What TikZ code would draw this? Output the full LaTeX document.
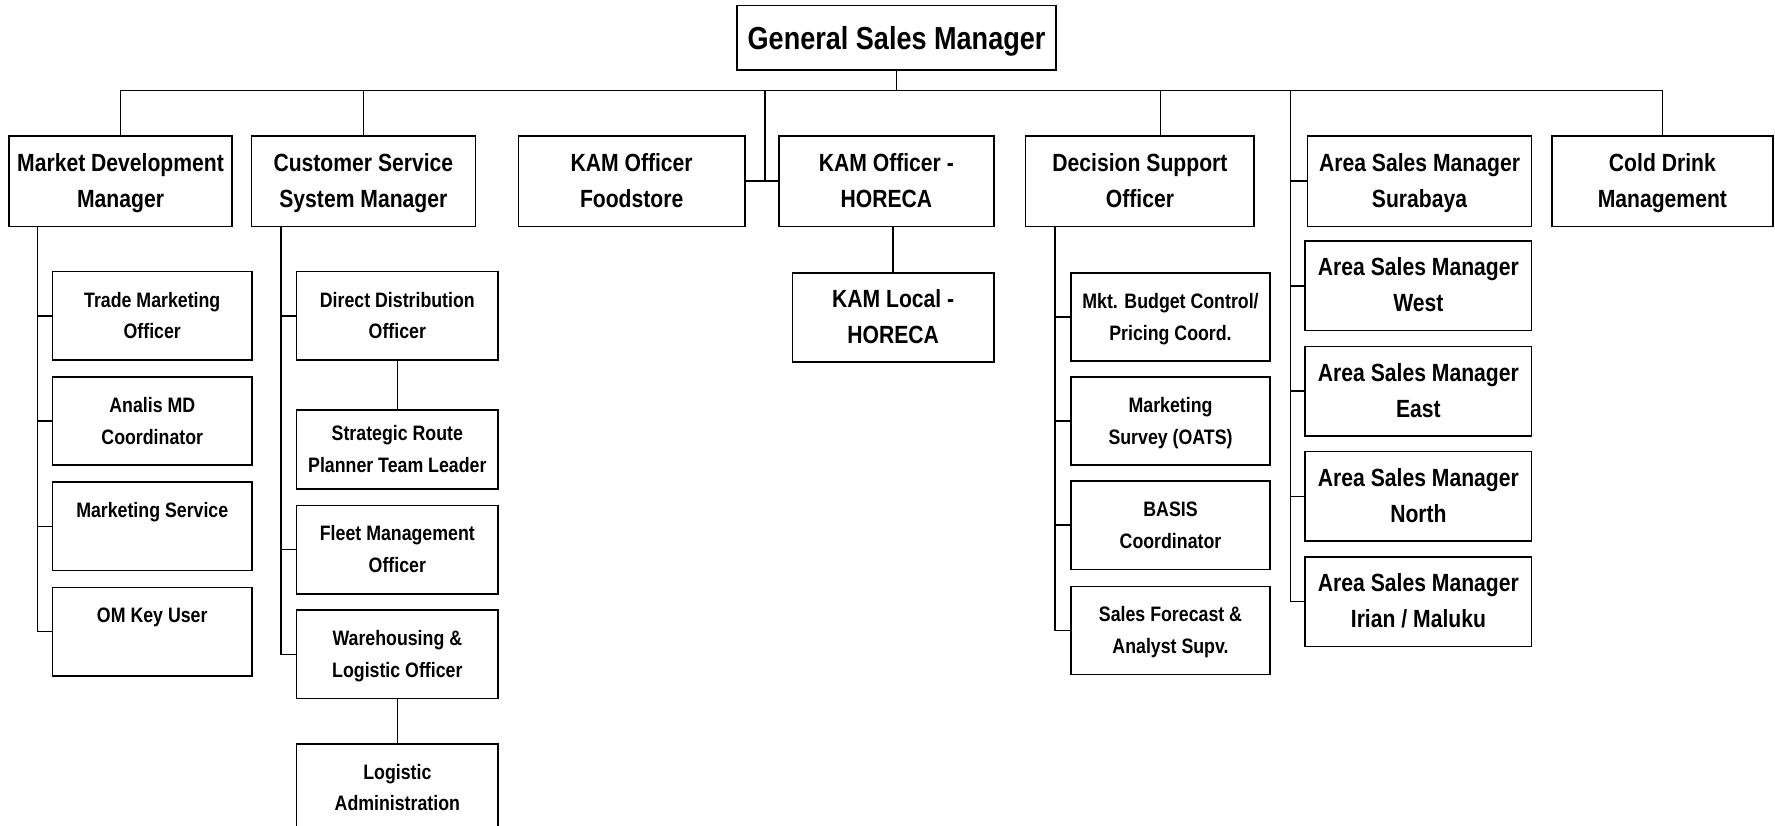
\documentclass[tikz,border=0pt]{standalone}
\usepackage{fontspec}
\setmainfont{Liberation Sans}[FakeStretch=0.85]
\usetikzlibrary{positioning,calc}
\def\px{0.2mm}
\tikzset{
  orgline/.style={line width=0.8pt},
  plainbox/.style={draw,orgline,align=center,inner sep=1pt,
    execute at end node=\strut},
  % two lines of text: room above the first line, strut below the last
  orgbox/.style={plainbox,
    font=\bfseries\fontsize{12.5}{18}\selectfont,
    execute at begin node=\rule{0pt}{1.75\baselineskip},
    minimum width=198*\px,minimum height=80*\px},
  subbox/.style={orgbox,font=\bfseries\fontsize{10.5}{16}\selectfont,
    minimum width=176*\px,minimum height=78*\px},
  areabox/.style={orgbox,minimum width=200*\px,minimum height=79*\px},
  headbox/.style={plainbox,font=\bfseries\fontsize{16}{20}\selectfont,
    execute at begin node=\rule{0pt}{0.9\baselineskip},
    minimum width=282*\px,minimum height=57*\px}
}
\begin{document}
\begin{tikzpicture}[x=\px,y=-\px]
\useasboundingbox (0,0) rectangle (1568,729);

% top
\node[headbox] (gsm) at (792,33.5) {General Sales Manager};

% first row
\node[orgbox,minimum width=197*\px] (mdm) at (106.5,160) {Market Development\\Manager};
\node[orgbox] (css) at (321,160) {Customer Service\\System Manager};
\node[orgbox,minimum width=200*\px] (kamf) at (558,160) {KAM Officer\\Foodstore};
\node[orgbox,minimum width=190*\px] (kamh) at (783,160) {KAM Officer -\\HORECA};
\node[orgbox,minimum width=202*\px] (dso) at (1007,160) {Decision Support\\Officer};
\node[orgbox] (asb) at (1254,160) {Area Sales Manager\\Surabaya};
\node[orgbox,minimum width=195*\px] (cdm) at (1468.5,160) {Cold Drink\\Management};

% market development
\node[subbox] (tmo) at (134.5,279) {Trade Marketing\\Officer};
\node[subbox] (amd) at (134.5,372) {Analis MD\\Coordinator};
\node[subbox] (msv) at (134.5,465) {Marketing Service\\~};
\node[subbox] (omk) at (134.5,558) {OM Key User\\~};

% customer service
\node[subbox,minimum width=178*\px] (ddo) at (351,279) {Direct Distribution\\Officer};
\node[subbox,minimum width=178*\px,minimum height=70*\px] (srp) at (351,397) {Strategic Route\\Planner Team Leader};
\node[subbox,minimum width=178*\px] (fmo) at (351,485.5) {Fleet Management\\Officer};
\node[subbox,minimum width=178*\px] (wlo) at (351,578) {Warehousing \&\\Logistic Officer};
\node[subbox,minimum width=178*\px] (lad) at (351,696) {Logistic\\Administration};

% kam horeca
\node[orgbox,minimum width=178*\px,minimum height=79*\px] (kaml) at (789,280.5) {KAM Local -\\HORECA};

% decision support
\node[subbox] (mbc) at (1034,280) {Mkt. Budget Control/\\Pricing Coord.};
\node[subbox] (msu) at (1034,372) {Marketing\\Survey (OATS)};
\node[subbox] (bas) at (1034,464) {BASIS\\Coordinator};
\node[subbox] (sfa) at (1034,557) {Sales Forecast \&\\Analyst Supv.};

% area sales
\node[areabox] (wst) at (1253,252.5) {Area Sales Manager\\West};
\node[areabox] (est) at (1253,345.5) {Area Sales Manager\\East};
\node[areabox] (nth) at (1253,438.5) {Area Sales Manager\\North};
\node[areabox] (iri) at (1253,531.5) {Area Sales Manager\\Irian / Maluku};

% bus and spines
\coordinate (bus) at (0,80);
\coordinate (mdmsp) at (33,0);
\coordinate (csssp) at (248,0);
\coordinate (dsosp) at (932,0);
\coordinate (asmsp) at (1140,80);
\coordinate (kamj) at (676,160);
\coordinate (dsoj) at (1025,0);

\begin{scope}[orgline]
\draw (gsm.south) -- (gsm.south |- bus);
\draw (mdm.north) |- (cdm.north |- bus) -- (cdm.north);
\draw (css.north) -- (css.north |- bus);
\draw (kamf.east) -- (kamh.west);
\draw (kamj) -- (kamj |- bus);
\draw (dso.north -| dsoj) -- (dsoj |- bus);
\draw (asmsp) |- (iri.west);
\foreach \n in {asb,wst,est,nth}
  \draw (\n.west) -- (\n.west -| asmsp);

\draw (mdm.south -| mdmsp) |- (omk.west);
\foreach \n in {tmo,amd,msv}
  \draw (\n.west) -- (\n.west -| mdmsp);

\draw (css.south -| csssp) |- (wlo.west);
\foreach \n in {ddo,fmo}
  \draw (\n.west) -- (\n.west -| csssp);
\draw (ddo.south) -- (srp.north);
\draw (wlo.south) -- (lad.north);

\draw (kaml.north) -- (kaml.north |- kamh.south);

\draw (dso.south -| dsosp) |- (sfa.west);
\foreach \n in {mbc,msu,bas}
  \draw (\n.west) -- (\n.west -| dsosp);
\end{scope}
\end{tikzpicture}
\end{document}
